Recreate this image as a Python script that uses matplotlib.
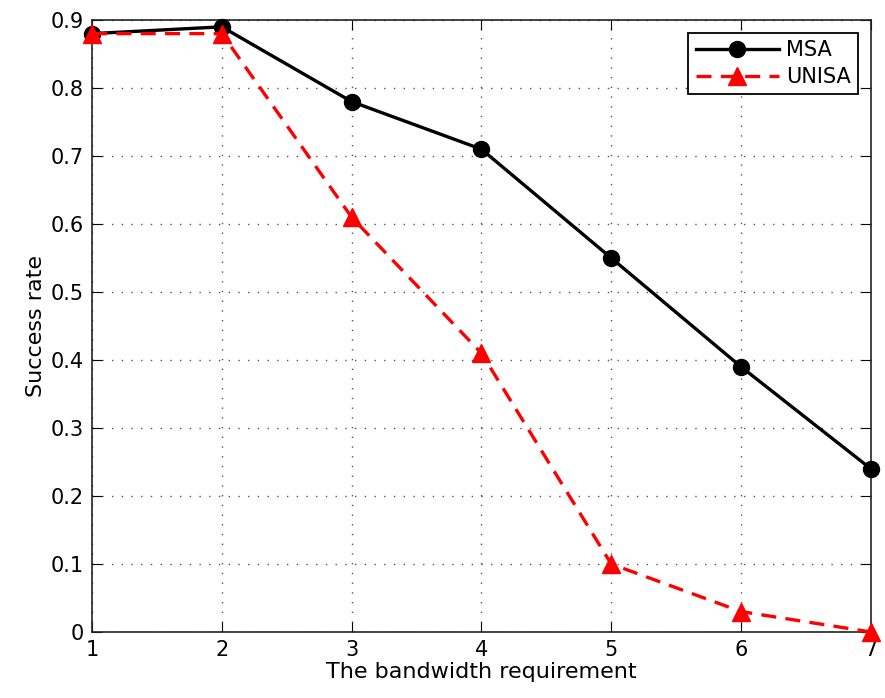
import matplotlib
matplotlib.use("Agg")
import matplotlib.pyplot as plt

bandwidth = [1, 2, 3, 4, 5, 6, 7]
msa_rate = [0.88, 0.89, 0.78, 0.71, 0.55, 0.39, 0.24]
unisa_rate = [0.88, 0.88, 0.61, 0.41, 0.10, 0.03, 0.0]

plt.rcParams["font.family"] = ["DejaVu Sans"]

fig = plt.figure(figsize=(8.85, 6.98), dpi=100)
ax = fig.add_axes([0.104, 0.0946, 0.880, 0.8767])

ax.plot(bandwidth, msa_rate, "-o", color="black", lw=2.4, ms=11.5,
        label="MSA", clip_on=False, zorder=3)
ax.plot(bandwidth, unisa_rate, "--^", color="red", lw=2.4, ms=13,
        dashes=(4.5, 2.8), label="UNISA", clip_on=False, zorder=4)

ax.set_xlim(1, 7)
ax.set_ylim(0, 0.9)
ax.set_xticks(bandwidth)
ax.set_yticks([i / 10 for i in range(10)])
ax.set_yticklabels(["0"] + [f"{i / 10:.1f}" for i in range(1, 10)])

ax.grid(True, linestyle=(0, (1, 6)), color="#555555", lw=1.0)
ax.tick_params(direction="in", top=True, right=True, labelsize=15, length=7, pad=6)
for spine in ax.spines.values():
    spine.set_linewidth(1.2)
    spine.set_color("#222222")

ax.set_xlabel("The bandwidth requirement", fontsize=16, labelpad=1)
ax.set_ylabel("Success rate", fontsize=16, labelpad=3)

leg = ax.legend(loc="upper right", fontsize=15, fancybox=False,
                edgecolor="black", framealpha=1, handlelength=4.0,
                borderpad=0.35, labelspacing=0.35, handletextpad=0.35,
                borderaxespad=0.6)
leg.get_frame().set_linewidth(1.3)

fig.savefig("out.png", dpi=100)
